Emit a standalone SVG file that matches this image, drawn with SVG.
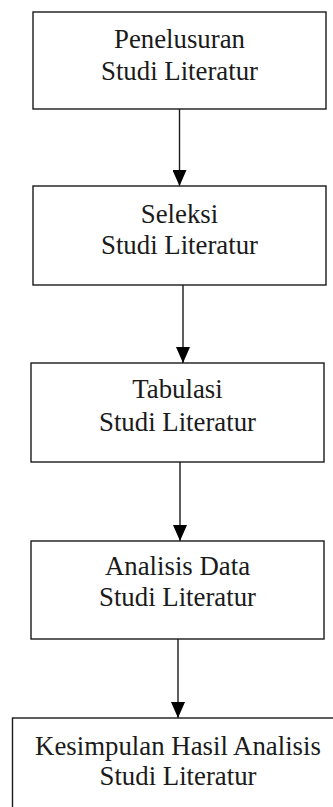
<svg xmlns="http://www.w3.org/2000/svg" width="333" height="807" viewBox="0 0 333 807">
<style>
.box{fill:#fff;stroke:#1a1a1a;stroke-width:1.4}
.t{font-family:"Liberation Serif","Times New Roman",serif;font-size:26.8px;fill:#1a1a1a;text-anchor:middle}
.c{stroke:#1a1a1a;stroke-width:1.4;fill:none;marker-end:url(#ah)}
</style>
<defs>
<marker id="ah" markerUnits="userSpaceOnUse" markerWidth="16" markerHeight="14" refX="16" refY="7" orient="auto" viewBox="0 0 16 14">
<path d="M0,0 L16,7 L0,14 Z" fill="#000"/>
</marker>
</defs>
<rect width="333" height="807" fill="#fff"/>
<g id="connectors">
<line class="c" x1="179.5" y1="109" x2="179.5" y2="186"/>
<line class="c" x1="183" y1="285" x2="183" y2="363"/>
<line class="c" x1="180" y1="462" x2="180" y2="541"/>
<line class="c" x1="178" y1="639" x2="178" y2="718"/>
</g>
<g id="n1">
<rect class="box" x="33" y="12" width="293" height="97"/>
<text class="t" x="179.5" y="48">Penelusuran</text>
<text class="t" x="179.5" y="79.5">Studi Literatur</text>
</g>
<g id="n2">
<rect class="box" x="33" y="186" width="293" height="99"/>
<text class="t" x="179.5" y="222.5">Seleksi</text>
<text class="t" x="179.5" y="254">Studi Literatur</text>
</g>
<g id="n3">
<rect class="box" x="31" y="363" width="293" height="99"/>
<text class="t" x="177.5" y="398">Tabulasi</text>
<text class="t" x="177.5" y="430.5">Studi Literatur</text>
</g>
<g id="n4">
<rect class="box" x="31" y="541" width="293" height="98"/>
<text class="t" x="177.5" y="575">Analisis Data</text>
<text class="t" x="177.5" y="606">Studi Literatur</text>
</g>
<g id="n5">
<rect class="box" x="12.5" y="718" width="340" height="120"/>
<text class="t" x="178" y="755">Kesimpulan Hasil Analisis</text>
<text class="t" x="178" y="785">Studi Literatur</text>
</g>
</svg>
